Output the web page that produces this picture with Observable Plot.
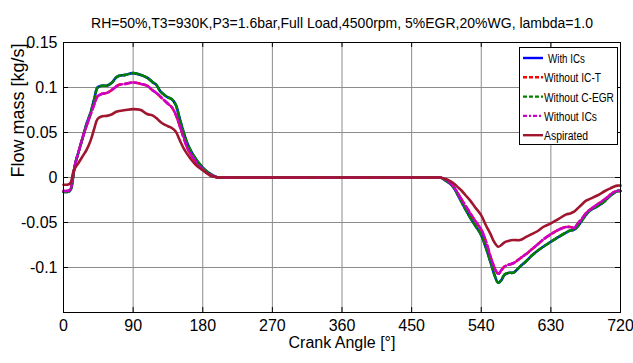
<!DOCTYPE html>
<html>
<head>
<meta charset="utf-8">
<script src="https://cdn.jsdelivr.net/npm/d3@7"></script>
<script src="https://cdn.jsdelivr.net/npm/@observablehq/plot@0.6"></script>
<style>
  html, body { margin: 0; padding: 0; background: #fff; }
  #wrap { position: relative; width: 633px; height: 363px; font-family: "Liberation Sans", Arial, sans-serif; }
  #legend { position: absolute; left: 519px; top: 47px; }
</style>
</head>
<body>
<div id="wrap"></div>
<script>
const title = "RH=50%,T3=930K,P3=1.6bar,Full Load,4500rpm, 5%EGR,20%WG, lambda=1.0";
const seriesNames = ["With ICs", "Without IC-T", "Without C-EGR", "Without ICs", "Aspirated"];
const seriesColors = ["#0000ff", "#ff0000", "#008000", "#cc00cc", "#a0162f"];
const seriesDash = [null, "6,3", "6,3", "7,3,2,3", null];
const xTicks = [0, 90, 180, 270, 360, 450, 540, 630, 720];
const yTicks = [-0.15, -0.1, -0.05, 0, 0.05, 0.1, 0.15];
const yTickLabels = ["", "-0.1", "-0.05", "0", "0.05", "0.1", "0.15"];

const angle = [0,5,8,10,12,14,16,20,25,30,35,40,44,50,56,62,68,72,80,90,100,108,115,120,125,130,135,140,145,150,155,160,165,170,175,180,185,190,195,200,210,300,400,480,487,495,500,505,510,515,520,526,532,540,546,552,557,562,566,570,575,582,590,598,605,612,620,630,640,650,655,660,665,670,675,680,690,700,707,712,716,720];

const withICs = [-0.016,-0.016,-0.015,-0.012,-0.002,0.010,0.018,0.030,0.045,0.060,0.072,0.088,0.100,0.102,0.102,0.105,0.111,0.113,0.114,0.116,0.114,0.111,0.106,0.103,0.096,0.092,0.089,0.087,0.081,0.066,0.051,0.038,0.029,0.022,0.016,0.011,0.007,0.004,0.0015,0,0,0,0,0,0,-0.004,-0.007,-0.012,-0.020,-0.028,-0.036,-0.045,-0.053,-0.064,-0.078,-0.094,-0.108,-0.117,-0.114,-0.108,-0.106,-0.1056,-0.099,-0.093,-0.087,-0.082,-0.077,-0.0714,-0.066,-0.061,-0.059,-0.058,-0.054,-0.048,-0.042,-0.037,-0.032,-0.026,-0.020,-0.017,-0.015,-0.015];

const withoutCEGR = [-0.016,-0.016,-0.015,-0.012,-0.002,0.010,0.018,0.030,0.045,0.060,0.072,0.088,0.100,0.102,0.102,0.105,0.111,0.113,0.114,0.116,0.114,0.111,0.106,0.103,0.096,0.092,0.089,0.087,0.081,0.066,0.051,0.038,0.029,0.022,0.016,0.011,0.007,0.004,0.0015,0,0,0,0,0,0,-0.004,-0.007,-0.012,-0.020,-0.028,-0.036,-0.045,-0.053,-0.064,-0.078,-0.094,-0.108,-0.117,-0.114,-0.108,-0.106,-0.1056,-0.099,-0.093,-0.087,-0.082,-0.077,-0.0714,-0.066,-0.061,-0.059,-0.058,-0.054,-0.048,-0.042,-0.037,-0.032,-0.026,-0.020,-0.017,-0.015,-0.015];

const withoutICT = [-0.015,-0.015,-0.014,-0.011,0.000,0.010,0.018,0.030,0.045,0.058,0.070,0.082,0.090,0.093,0.094,0.097,0.101,0.103,0.104,0.1056,0.104,0.102,0.097,0.094,0.090,0.086,0.082,0.078,0.070,0.058,0.045,0.033,0.025,0.019,0.013,0.009,0.005,0.003,0.001,0,0,0,0,0,0,-0.003,-0.006,-0.011,-0.018,-0.025,-0.032,-0.040,-0.048,-0.058,-0.071,-0.088,-0.100,-0.107,-0.103,-0.099,-0.097,-0.095,-0.090,-0.085,-0.080,-0.075,-0.069,-0.063,-0.058,-0.055,-0.055,-0.056,-0.051,-0.046,-0.040,-0.036,-0.030,-0.024,-0.019,-0.016,-0.015,-0.015];

const withoutICs = [-0.015,-0.015,-0.014,-0.011,0.000,0.010,0.018,0.030,0.045,0.058,0.070,0.082,0.090,0.093,0.094,0.097,0.101,0.103,0.104,0.1056,0.104,0.102,0.097,0.094,0.090,0.086,0.082,0.078,0.070,0.058,0.045,0.033,0.025,0.019,0.013,0.009,0.005,0.003,0.001,0,0,0,0,0,0,-0.003,-0.006,-0.011,-0.018,-0.025,-0.032,-0.040,-0.048,-0.058,-0.071,-0.088,-0.100,-0.107,-0.103,-0.099,-0.097,-0.095,-0.090,-0.085,-0.080,-0.075,-0.069,-0.063,-0.058,-0.055,-0.055,-0.056,-0.051,-0.046,-0.040,-0.036,-0.030,-0.024,-0.019,-0.016,-0.015,-0.015];

const aspirated = [-0.008,-0.008,-0.007,-0.004,0.004,0.009,0.012,0.017,0.024,0.031,0.041,0.055,0.065,0.068,0.0685,0.070,0.073,0.074,0.075,0.076,0.075,0.0705,0.069,0.066,0.062,0.059,0.057,0.055,0.051,0.042,0.033,0.026,0.020,0.015,0.011,0.008,0.005,0.002,0.001,0,0,0,0,0,0,-0.002,-0.004,-0.007,-0.011,-0.015,-0.020,-0.026,-0.033,-0.042,-0.053,-0.063,-0.072,-0.077,-0.075,-0.072,-0.0705,-0.0695,-0.0695,-0.066,-0.063,-0.060,-0.055,-0.051,-0.046,-0.041,-0.040,-0.038,-0.034,-0.030,-0.026,-0.024,-0.020,-0.015,-0.012,-0.010,-0.009,-0.009];

const seriesValues = [withICs, withoutICT, withoutCEGR, withoutICs, aspirated];
const legendTextWidths = [37, 57, 70, 53, 44];

const rows = (vals) => angle.map((a, i) => ({a, v: vals[i]}));

const lineMarks = seriesValues.map((vals, k) =>
  Plot.line(rows(vals), {x: "a", y: "v", stroke: seriesColors[k], strokeWidth: 2.6,
    strokeDasharray: seriesDash[k] || undefined, curve: "catmull-rom"}));

const fontTicks = "16px";
const chart = Plot.plot({
  width: 633,
  height: 363,
  marginTop: 42,
  marginBottom: 51,
  marginLeft: 63,
  marginRight: 13,
  style: {fontFamily: "'Liberation Sans', Arial, sans-serif", background: "white", color: "#000"},
  x: {domain: [0, 720], ticks: xTicks},
  y: {domain: [-0.15, 0.15], ticks: yTicks},
  marks: [
    Plot.ruleX(xTicks.slice(1, -1), {stroke: "#8c8c8c", strokeWidth: 1}),
    Plot.ruleY(yTicks.slice(1, -1), {stroke: "#8c8c8c", strokeWidth: 1}),
    Plot.ruleX(xTicks, {y1: -0.15, y2: -0.1445, stroke: "#000"}),
    Plot.ruleX(xTicks, {y1: 0.15, y2: 0.1445, stroke: "#000"}),
    Plot.ruleY(yTicks, {x1: 0, x2: 6.5, stroke: "#000"}),
    Plot.ruleY(yTicks, {x1: 720, x2: 713.5, stroke: "#000"}),
    ...lineMarks,
    Plot.frame({stroke: "#000", strokeWidth: 1}),
    Plot.axisX(xTicks, {tickSize: 0, tickPadding: 7, fontSize: fontTicks,
      label: "Crank Angle [°]", labelAnchor: "center", labelArrow: "none", labelOffset: 35}),
    Plot.axisY(yTicks, {tickSize: 0, tickPadding: 6, fontSize: fontTicks,
      tickFormat: (d) => yTickLabels[yTicks.indexOf(d)],
      label: null}),
    Plot.text([title], {frameAnchor: "top", dy: -24, fontSize: 14, text: d => d}),
    Plot.text(["Flow mass [kg/s]"], {frameAnchor: "left", dx: -45, rotate: -90, fontSize: 18, text: d => d})
  ]
});
document.getElementById("wrap").appendChild(chart);

// legend
const lg = d3.select("#wrap").append("svg").attr("id", "legend")
  .attr("width", 100).attr("height", 99);
lg.append("rect").attr("x", 0.5).attr("y", 0.5).attr("width", 98).attr("height", 97)
  .attr("fill", "white").attr("stroke", "#000").attr("stroke-width", 1);
seriesNames.forEach((name, k) => {
  const y = 11 + k * 19.3;
  lg.append("line").attr("x1", 4).attr("x2", 24).attr("y1", y).attr("y2", y)
    .attr("stroke", seriesColors[k]).attr("stroke-width", 2.4)
    .attr("stroke-dasharray", seriesDash[k] ? (k === 3 ? "4,2,2,2" : "4,2") : null);
  const t = lg.append("text")
    .attr("font-size", 13.5).attr("font-family", "'Liberation Sans', Arial, sans-serif")
    .text(name);
  const natural = t.node().getComputedTextLength() || legendTextWidths[k];
  const sx = legendTextWidths[k] / natural;
  t.attr("transform", `translate(${k === 0 ? 29 : 25},${y + 5}) scale(${sx},1)`);
});
</script>
</body>
</html>
